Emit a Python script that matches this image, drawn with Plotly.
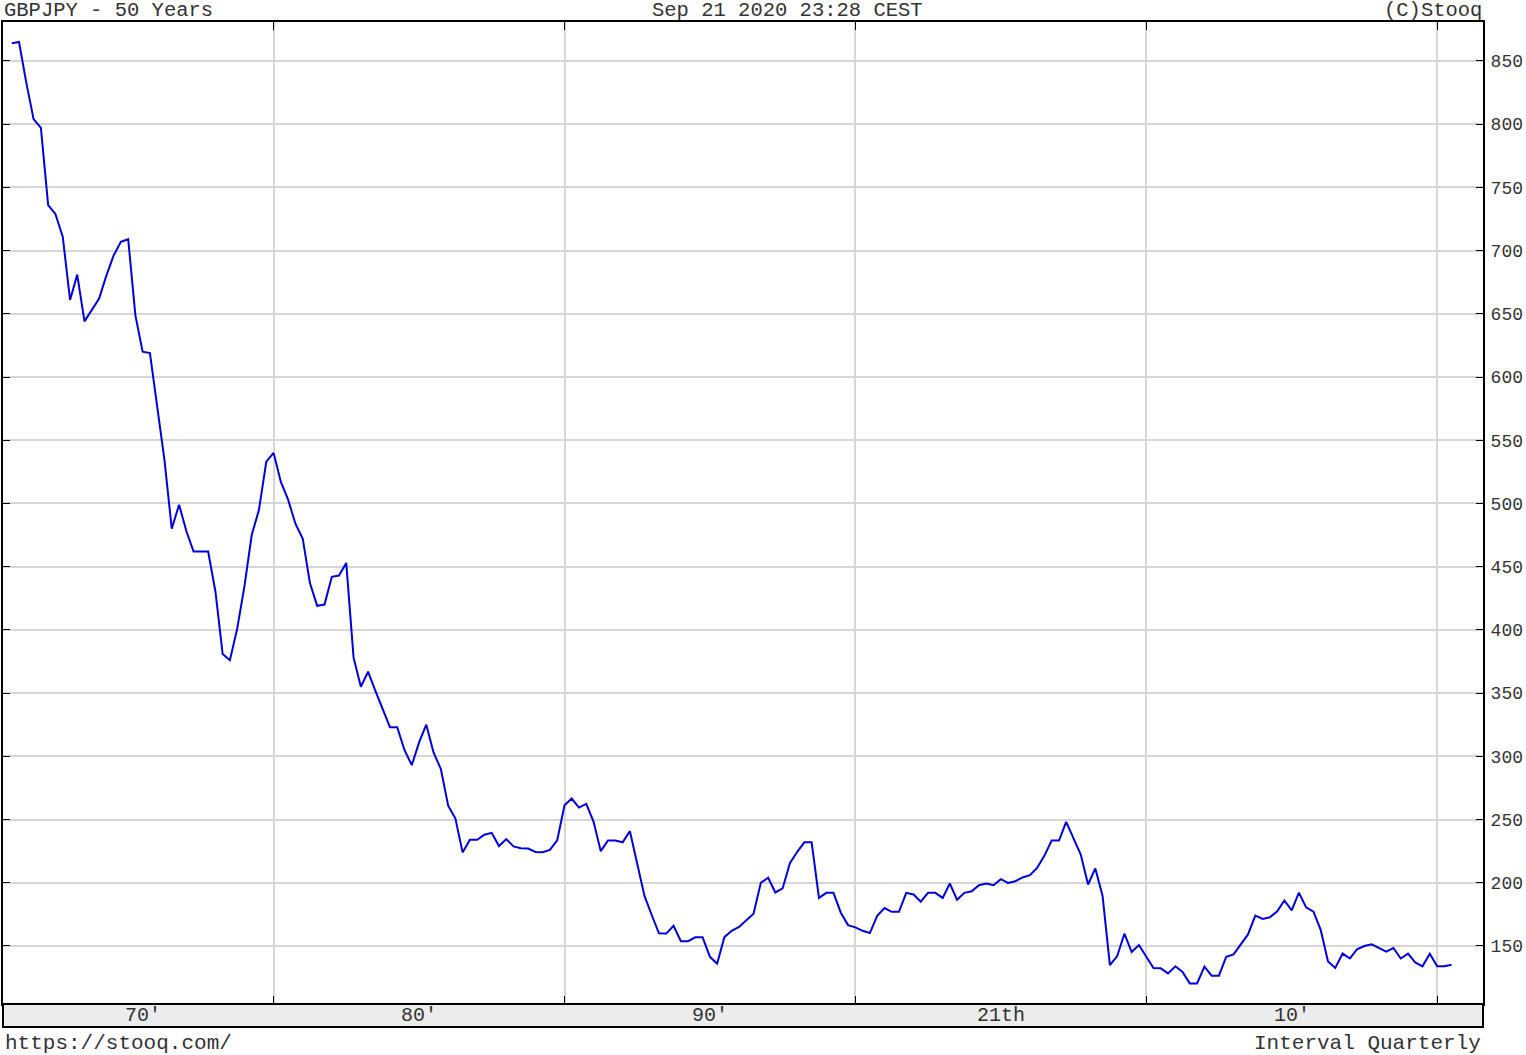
import pandas as pd
import plotly.graph_objects as go

# GBPJPY quarterly closes, Q1 1971 .. Q3 2020
quarters = pd.date_range('1971-01-01', periods=199, freq='QS')
gbpjpy = [
    864, 865, 833, 804, 797, 736, 729, 711, 661, 681,
    644, 653, 662, 680, 696, 707, 709, 649, 620, 619,
    577, 534, 480, 499, 478, 462, 462, 462, 430, 381,
    376, 401, 435, 475, 495, 533, 540, 517, 503, 484,
    472, 437, 419, 420, 442, 443, 453, 378, 355, 367,
    352, 337, 323, 323, 305, 293, 311, 325, 303, 290,
    261, 251, 224, 234, 234, 238, 239.5, 229, 234.5, 228.7,
    227.3, 227, 224.4, 224.2, 226, 233.6, 261.3, 266.6, 259.5, 262.4,
    248.2, 225, 233.4, 233.4, 232, 240.8, 215.7, 189.6, 174.3, 160,
    159.8, 166, 153.8, 153.8, 156.8, 156.8, 141.4, 136, 157, 162,
    165, 170, 175.5, 200, 204, 192.3, 195.5, 215.5, 224.5, 232,
    232, 188, 192, 192, 176.5, 166.5, 164.7, 162, 160.2, 173.9,
    180, 177, 177, 192, 190.7, 185, 192, 192, 188, 199.4,
    186.5, 192, 193.3, 198, 199.4, 198, 202.8, 199.9, 201.2, 204.2,
    206, 211.8, 221.3, 233.4, 233.4, 248.2, 236, 222.3, 198.6, 211.3,
    189.6, 134.8, 142, 159.7, 145.2, 150.7, 141.5, 132.5, 132.3, 128.3,
    133.9, 129.4, 120.4, 120.4, 133.6, 126.5, 126.5, 141.5, 143.3, 151.2,
    159.1, 174, 171.4, 172.7, 177.3, 186, 178.1, 192.2, 180.5, 177.1,
    162.5, 137.8, 132.6, 144, 140.1, 147.4, 150, 151.3, 148.7, 145.6,
    148.4, 140.1, 144, 137, 133.9, 143.8, 133.9, 133.9, 135.2,
]

decade_lines = ['1980-01-01', '1990-01-01', '2000-01-01', '2010-01-01', '2020-01-01']
decade_labels = ["70'", "80'", "90'", "21th", "10'"]
decade_label_pos = ['1975-07-01', '1985-01-01', '1995-01-01', '2005-01-01', '2015-01-01']
y_ticks = [150, 200, 250, 300, 350, 400, 450, 500, 550, 600, 650, 700, 750, 800, 850]

mono = 'Liberation Mono'
txt = '#333333'

fig = go.Figure()
fig.add_trace(go.Scatter(x=quarters, y=gbpjpy, mode='lines',
                         line=dict(color='rgb(0,0,220)', width=2),
                         hoverinfo='x+y', showlegend=False))

fig.update_layout(
    width=1526, height=1055,
    margin=dict(l=3, r=43, t=22, b=51, autoexpand=False),
    paper_bgcolor='white', plot_bgcolor='white',
    font=dict(family=mono, color=txt),
)

fig.update_xaxes(type='date', range=['1970-09-12', '2021-07-30'],
                 tickvals=decade_lines, showticklabels=False, automargin=False,
                 showgrid=True, gridcolor='#d6d6d6', gridwidth=2,
                 ticks='inside', ticklen=8, tickcolor='black', tickwidth=1,
                 showline=True, linecolor='black', linewidth=2, mirror='ticks',
                 zeroline=False)

fig.update_yaxes(side='right', range=[104.1, 880.8], tickvals=y_ticks, automargin=False,
                 showgrid=True, gridcolor='#d6d6d6', gridwidth=2,
                 ticks='inside', ticklen=7, tickcolor='black', tickwidth=1,
                 ticklabelstandoff=2,
                 tickfont=dict(family=mono, size=18, color=txt),
                 showline=True, linecolor='black', linewidth=2, mirror='ticks',
                 zeroline=False)

# grey band with decade names under the plot
band_h = 23 / 982
fig.add_shape(type='rect', xref='paper', yref='paper', x0=0, x1=1, y0=-band_h, y1=0,
              fillcolor='#ececec', line=dict(color='black', width=2))
for pos, lab in zip(decade_label_pos, decade_labels):
    fig.add_annotation(x=pos, xref='x', y=-band_h / 2, yref='paper', text=lab,
                       showarrow=False, xanchor='center', yanchor='middle',
                       font=dict(family=mono, size=20, color=txt))

# header / footer texts
head_y = 1 + 12 / 982
foot_y = -39 / 982
head_font = dict(family=mono, size=20.5, color=txt)
fig.add_annotation(x=0, y=head_y, xref='paper', yref='paper', text='GBPJPY - 50 Years',
                   showarrow=False, xanchor='left', yanchor='middle', borderpad=0,
                   font=head_font)
fig.add_annotation(x=0.5304, y=head_y, xref='paper', yref='paper', text='Sep 21 2020 23:28 CEST',
                   showarrow=False, xanchor='center', yanchor='middle', borderpad=0,
                   font=head_font)
fig.add_annotation(x=1, y=head_y, xref='paper', yref='paper', text='(C)Stooq',
                   showarrow=False, xanchor='right', yanchor='middle', borderpad=0,
                   font=head_font)
fig.add_annotation(x=0, y=foot_y, xref='paper', yref='paper', text='https://stooq.com/',
                   showarrow=False, xanchor='left', yanchor='middle',
                   font=dict(family=mono, size=21, color=txt))
fig.add_annotation(x=1, y=foot_y, xref='paper', yref='paper', text='Interval Quarterly',
                   showarrow=False, xanchor='right', yanchor='middle',
                   font=dict(family=mono, size=21, color=txt))

# the page body has a default 8px margin; drop it so the figure sits at the corner
fig.write_html("out.html", config={'displayModeBar': False},
               post_script="document.body.style.margin='0';")
